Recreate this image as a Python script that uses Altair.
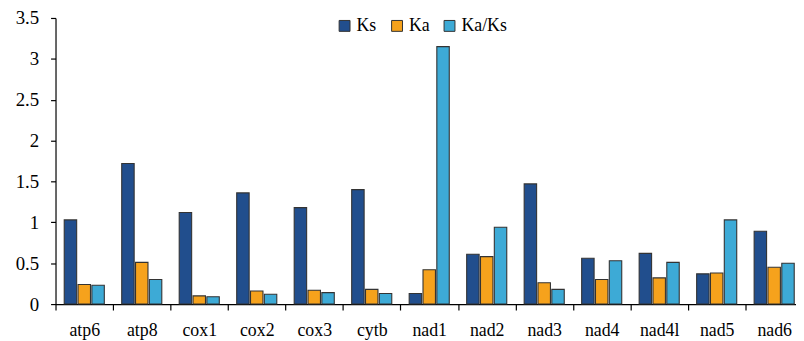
import altair as alt
import pandas as pd

genes = ["atp6", "atp8", "cox1", "cox2", "cox3", "cytb", "nad1",
         "nad2", "nad3", "nad4", "nad4l", "nad5", "nad6"]
ks = [1.03, 1.72, 1.12, 1.36, 1.18, 1.40, 0.13, 0.61, 1.47, 0.56, 0.62, 0.37, 0.89]
ka = [0.24, 0.51, 0.10, 0.16, 0.17, 0.18, 0.42, 0.58, 0.26, 0.30, 0.32, 0.38, 0.45]
kaks = [0.23, 0.30, 0.09, 0.12, 0.14, 0.13, 3.15, 0.94, 0.18, 0.53, 0.51, 1.03, 0.50]
series = ["Ks", "Ka", "Ka/Ks"]
colors = ["#214E8D", "#F6A21C", "#3DAAD6"]

rows = []
for i, g in enumerate(genes):
    for s, vals in zip(series, [ks, ka, kaks]):
        rows.append({"gene": g, "series": s, "value": vals[i]})
df = pd.DataFrame(rows)

font = "'Liberation Serif', 'Times New Roman', 'DejaVu Serif', serif"

chart = alt.Chart(df).mark_bar(stroke="#333333", strokeWidth=1.1).encode(
    x=alt.X("gene:N", sort=genes,
            scale=alt.Scale(range=[0, 755], paddingInner=0, paddingOuter=0),
            axis=alt.Axis(title=None, labelAngle=0, tickBand="extent",
                          labelFont=font, labelFontSize=18, labelColor="#000000",
                          domainColor="#000000", tickColor="#000000",
                          tickSize=6, labelPadding=12, domainWidth=1.2, tickWidth=1.2)),
    xOffset=alt.XOffset("series:N", sort=series,
                        scale=alt.Scale(paddingInner=0.1, paddingOuter=0.63)),
    y=alt.Y("value:Q",
            scale=alt.Scale(domain=[0, 3.5], nice=False),
            axis=alt.Axis(title=None, values=[0, 0.5, 1, 1.5, 2, 2.5, 3, 3.5],
                          format="~g", grid=False,
                          labelFont=font, labelFontSize=19, labelColor="#000000",
                          domainColor="#000000", tickColor="#000000",
                          tickSize=5, labelPadding=12, domainWidth=1.2, tickWidth=1.2)),
    color=alt.Color("series:N", sort=series,
                    scale=alt.Scale(domain=series, range=colors),
                    legend=alt.Legend(title=None, orient="none", direction="horizontal",
                                      legendX=283, legendY=-1, padding=0,
                                      symbolType="square", symbolSize=121,
                                      symbolStrokeColor="#333333", symbolStrokeWidth=1,
                                      symbolOpacity=1,
                                      labelFont=font, labelFontSize=18, labelColor="#000000",
                                      labelOffset=3, columnPadding=11)),
).properties(
    width=748, height=289,
    autosize=alt.AutoSizeParams(type="none"),
    padding={"left": 48, "top": 8.4, "right": 0, "bottom": 35},
).configure_view(stroke=None)

chart.save("out.html", embed_options={"renderer": "svg", "actions": False})
